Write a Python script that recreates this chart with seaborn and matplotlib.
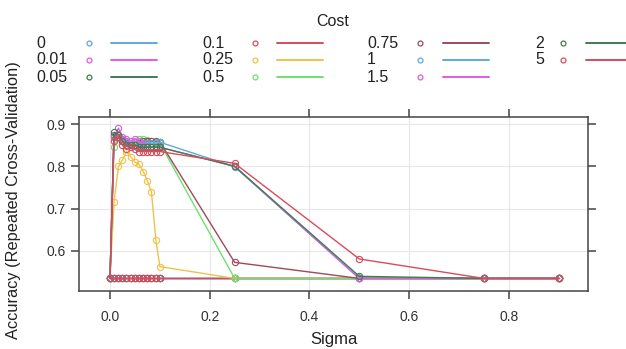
import numpy as np
import pandas as pd
import matplotlib
matplotlib.use('Agg')
import matplotlib.pyplot as plt
from matplotlib.lines import Line2D
import seaborn as sns

# tuning grid
sigma = [0, 0.008, 0.017, 0.025, 0.033, 0.042, 0.05, 0.058, 0.067, 0.075,
         0.083, 0.092, 0.1, 0.25, 0.5, 0.75, 0.9]

cost_labels = ['0', '0.01', '0.05', '0.1', '0.25', '0.5', '0.75', '1', '1.5', '2', '5']

flat = [0.535] * 17
acc_0 = flat
acc_001 = flat
acc_005 = flat
acc_01 = flat
acc_025 = [0.535, 0.716, 0.80, 0.815, 0.835, 0.822, 0.81, 0.805, 0.787, 0.765,
           0.74, 0.626, 0.563, 0.535, 0.535, 0.535, 0.535]
acc_05 = [0.535, 0.845, 0.87, 0.865, 0.86, 0.855, 0.86, 0.865, 0.865, 0.862,
          0.86, 0.858, 0.855, 0.535, 0.535, 0.535, 0.535]
acc_075 = [0.535, 0.875, 0.87, 0.86, 0.855, 0.85, 0.85, 0.855, 0.86, 0.86,
           0.86, 0.86, 0.858, 0.573, 0.535, 0.535, 0.535]
acc_1 = [0.535, 0.87, 0.875, 0.865, 0.86, 0.855, 0.85, 0.85, 0.855, 0.855,
         0.855, 0.855, 0.857, 0.799, 0.535, 0.535, 0.535]
acc_15 = [0.535, 0.87, 0.89, 0.87, 0.865, 0.86, 0.865, 0.86, 0.85, 0.845,
          0.845, 0.845, 0.845, 0.80, 0.535, 0.535, 0.535]
acc_2 = [0.535, 0.88, 0.875, 0.86, 0.85, 0.85, 0.85, 0.845, 0.845, 0.845,
         0.845, 0.845, 0.845, 0.80, 0.54, 0.535, 0.535]
acc_5 = [0.535, 0.86, 0.87, 0.85, 0.84, 0.845, 0.84, 0.835, 0.835, 0.835,
         0.835, 0.835, 0.835, 0.807, 0.581, 0.535, 0.535]

series = [acc_0, acc_001, acc_005, acc_01, acc_025, acc_05, acc_075,
          acc_1, acc_15, acc_2, acc_5]

base_cols = ['#5fa9d9', '#e05ce0', '#3f7d52', '#d94b5b', '#f0c24a', '#6ee06e', '#9e4a5c']
palette = [base_cols[i % len(base_cols)] for i in range(len(cost_labels))]

rows = []
for lab, vals in zip(cost_labels, series):
    for s, a in zip(sigma, vals):
        rows.append({'sigma': s, 'acc': a, 'cost': lab})
df = pd.DataFrame(rows)

sns.set_style('white')
plt.rcParams['font.family'] = ['Liberation Sans', 'DejaVu Sans']

W, H = 626, 349
fig = plt.figure(figsize=(W / 100, H / 100), dpi=100)
ax = fig.add_axes([79 / W, 1 - 290.7 / H, (588 - 79) / W, (290.7 - 117) / H])

sns.lineplot(data=df, x='sigma', y='acc', hue='cost', hue_order=cost_labels,
             palette=palette, marker='o', markersize=4.5,
             linewidth=1.0, estimator=None, sort=False,
             legend=False, ax=ax)
# open circles in the line colour, like lattice
for ln in ax.lines:
    ln.set_markerfacecolor('none')
    ln.set_markeredgecolor(ln.get_color())
    ln.set_markeredgewidth(0.8)

ax.set_xlim(-0.0622, 0.9587)
ax.set_ylim(0.506, 0.9166)
ax.set_xticks([0, 0.2, 0.4, 0.6, 0.8])
ax.set_xticklabels(['0.0', '0.2', '0.4', '0.6', '0.8'])
ax.set_yticks([0.6, 0.7, 0.8, 0.9])
ax.grid(True, color='#e8e8e8', linewidth=0.8)
ax.set_axisbelow(True)
for sp in ax.spines.values():
    sp.set_color('#444444')
    sp.set_linewidth(1.1)
ax.tick_params(axis='both', direction='out', length=6, width=1.1, color='#444444',
               labelsize=10, labelcolor='#333333', top=True, right=True,
               bottom=True, left=True, labeltop=False, labelright=False)
ax.tick_params(axis='x', pad=8)
ax.set_xlabel('Sigma', fontsize=12, color='#222222', labelpad=6)
ax.set_ylabel('Accuracy (Repeated Cross-Validation)', fontsize=11.8, color='#222222')
ax.yaxis.set_label_coords(-58 / (588 - 79), 0.52)

# lattice style legend on top
def px(x, y):
    return x / W, 1 - y / H

fig.text(*px(333, 22), 'Cost', ha='center', va='center', fontsize=11.5, color='#222222')
col_text = [36, 202, 367, 535]
col_pt = [89, 255, 420, 563]
col_line = [(111, 157), (277, 323), (443, 489), (586, 632)]
row_y = [43, 60, 77]
for i, lab in enumerate(cost_labels):
    c, r = divmod(i, 3)
    y = row_y[r]
    fig.text(*px(col_text[c], y), lab, ha='left', va='center', fontsize=11.5, color='#222222')
    fig.add_artist(Line2D([col_pt[c] / W], [1 - y / H], marker='o', markersize=3.5,
                          markerfacecolor='none', markeredgecolor=palette[i],
                          markeredgewidth=0.9, linestyle='none', transform=fig.transFigure))
    x0, x1 = col_line[c]
    fig.add_artist(Line2D([x0 / W, x1 / W], [1 - y / H, 1 - y / H], color=palette[i],
                          linewidth=1.4, transform=fig.transFigure))

fig.savefig('out.png', dpi=100)
